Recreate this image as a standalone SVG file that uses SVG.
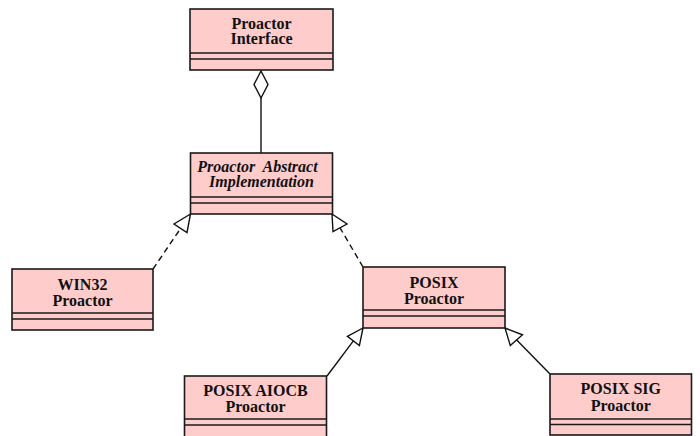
<svg xmlns="http://www.w3.org/2000/svg" width="700" height="436" viewBox="0 0 700 436">
  <style>
    .box { fill: #ffcccc; stroke: #1a1a1a; stroke-width: 1.6; }
    .sep { stroke: #1a1a1a; stroke-width: 1.6; }
    .lbl { font-family: "Liberation Serif", "Times New Roman", serif; font-weight: bold; font-size: 16px; fill: #111; text-anchor: middle; }
    .abs { font-style: italic; }
    .conn { fill: none; stroke: #111; stroke-width: 1.4; }
    .dash { stroke-dasharray: 6 4; }
    .head { fill: #ffffff; stroke: #111; stroke-width: 1.4; stroke-linejoin: miter; }
  </style>
  <rect width="700" height="436" fill="#ffffff"/>

  <!-- connectors -->
  <g id="connectors">
    <!-- aggregation: interface owns abstract implementation -->
    <line class="conn" x1="261" y1="98" x2="261" y2="153"/>
    <polygon class="head" points="261,71 268,84.5 261,98 254,84.5"/>
    <!-- realization: WIN32 -> abstract -->
    <line class="conn dash" x1="153" y1="269" x2="180.8" y2="228.2"/>
    <polygon class="head" points="190.5,214 174,224 187,232.5"/>
    <!-- realization: POSIX -> abstract -->
    <line class="conn dash" x1="363" y1="267" x2="340" y2="227.8"/>
    <polygon class="head" points="332,214 333,231.7 347,224"/>
    <!-- generalization: POSIX AIOCB -> POSIX -->
    <line class="conn" x1="327" y1="376" x2="353.4" y2="340.8"/>
    <polygon class="head" points="363,328 359.4,345.6 347.4,336.4"/>
    <!-- generalization: POSIX SIG -> POSIX -->
    <line class="conn" x1="550" y1="374" x2="516.2" y2="339.4"/>
    <polygon class="head" points="505,328 522.5,334.8 510.3,345.6"/>
  </g>

  <g id="proactor-interface">
    <rect class="box" x="190" y="9" width="143" height="61"/>
    <line class="sep" x1="190" y1="53" x2="333" y2="53"/>
    <line class="sep" x1="190" y1="59" x2="333" y2="59"/>
    <text class="lbl" x="261.5" y="28.5">Proactor</text>
    <text class="lbl" x="261.5" y="43.5">Interface</text>
  </g>

  <g id="proactor-abstract-implementation">
    <rect class="box" x="190.5" y="153" width="142" height="61"/>
    <line class="sep" x1="190.5" y1="197" x2="332.5" y2="197"/>
    <line class="sep" x1="190.5" y1="203" x2="332.5" y2="203"/>
    <text class="lbl abs" x="257.5" y="172">Proactor&#160; Abstract</text>
    <text class="lbl abs" x="261.5" y="187">Implementation</text>
  </g>

  <g id="win32-proactor">
    <rect class="box" x="12" y="269" width="141" height="61"/>
    <line class="sep" x1="12" y1="313" x2="153" y2="313"/>
    <line class="sep" x1="12" y1="319" x2="153" y2="319"/>
    <text class="lbl" x="82.5" y="290">WIN32</text>
    <text class="lbl" x="82.5" y="305.5">Proactor</text>
  </g>

  <g id="posix-proactor">
    <rect class="box" x="363" y="267" width="142" height="61"/>
    <line class="sep" x1="363" y1="310" x2="505" y2="310"/>
    <line class="sep" x1="363" y1="316" x2="505" y2="316"/>
    <text class="lbl" x="434" y="288">POSIX</text>
    <text class="lbl" x="434" y="304">Proactor</text>
  </g>

  <g id="posix-aiocb-proactor">
    <rect class="box" x="184.5" y="376" width="142" height="62"/>
    <line class="sep" x1="184.5" y1="419" x2="326.5" y2="419"/>
    <line class="sep" x1="184.5" y1="425" x2="326.5" y2="425"/>
    <text class="lbl" x="255.5" y="395.5">POSIX AIOCB</text>
    <text class="lbl" x="255.5" y="411.5">Proactor</text>
  </g>

  <g id="posix-sig-proactor">
    <rect class="box" x="550" y="374" width="141.5" height="61"/>
    <line class="sep" x1="550" y1="419" x2="691.5" y2="419"/>
    <line class="sep" x1="550" y1="424.5" x2="691.5" y2="424.5"/>
    <text class="lbl" x="620.8" y="394">POSIX SIG</text>
    <text class="lbl" x="620.8" y="410.5">Proactor</text>
  </g>
</svg>
